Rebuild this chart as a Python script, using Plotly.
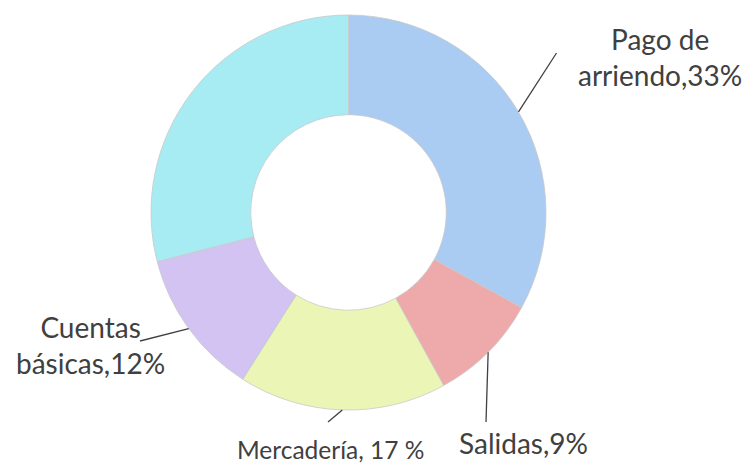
import math
import plotly.graph_objects as go

# ---- data ----
categories = ["Pago de arriendo", "Salidas", "Mercadería", "Cuentas básicas", "Otros"]
values = [33, 9, 17, 12, 29]
label_texts = ["Pago de<br>arriendo,33%", "Salidas,9%", "Mercadería, 17 %", "Cuentas<br>básicas,12%", None]
colors = ["#aacbf2", "#eeaaaa", "#ebf6b6", "#d3c3f3", "#a8ecf3"]

W, H = 750, 465
cx, cy, R = 348.5, 212.5, 197.5   # pie centre/radius in px (layout)

fig = go.Figure(go.Pie(
    labels=categories, values=values, sort=False, direction="clockwise",
    rotation=0, hole=0.495, textinfo="none", hoverinfo="label+percent",
    marker=dict(colors=colors, line=dict(color="#c9c9c9", width=0.8)),
    domain=dict(x=[(cx - R) / W, (cx + R) / W], y=[1 - (cy + R) / H, 1 - (cy - R) / H]),
    showlegend=False,
))

# label positions / font sizes (layout) and leader-line end points (layout)
label_pos = {0: (660, 57), 1: (523, 443), 2: (330, 449), 3: (90, 345)}
label_size = {0: 28, 1: 28, 2: 24.5, 3: 28}
leader_end = {0: (556.5, 53), 1: (486, 422), 2: (328, 422), 3: (140, 341)}

total = sum(values)
cum = 0
for i, v in enumerate(values):
    mid = (cum + v / 2) / total * 2 * math.pi
    cum += v
    if label_texts[i] is None:
        continue
    sx = cx + R * math.sin(mid)
    sy = cy - R * math.cos(mid)
    ex, ey = leader_end[i]
    fig.add_shape(type="line", xref="paper", yref="paper",
                  x0=sx / W, y0=1 - sy / H, x1=ex / W, y1=1 - ey / H,
                  line=dict(color="#404040", width=1.3))
    lx, ly = label_pos[i]
    fig.add_annotation(x=lx / W, y=1 - ly / H, xref="paper", yref="paper",
                       text=label_texts[i], showarrow=False, align="center",
                       xanchor="center", yanchor="middle",
                       font=dict(family="Lato", size=label_size[i], color="#404040"))

fig.update_layout(width=W, height=H, margin=dict(l=0, r=0, t=0, b=0),
                  paper_bgcolor="white", plot_bgcolor="white")
fig.write_html("out.html", config={"displayModeBar": False},
               post_script="document.body.style.margin='0';document.body.style.overflow='hidden';")
